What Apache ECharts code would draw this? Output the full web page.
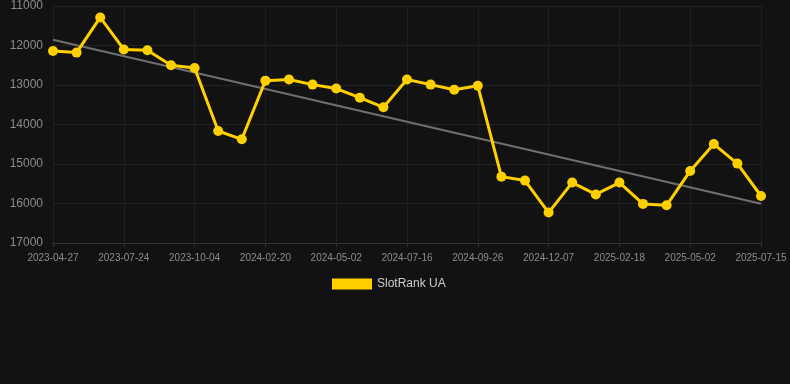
<!DOCTYPE html>
<html>
<head>
<meta charset="utf-8">
<script src="https://cdn.jsdelivr.net/npm/echarts@6/dist/echarts.min.js"></script>
<style>
html,body{margin:0;padding:0;background:#121212;}
#c{width:790px;height:384px;}
</style>
</head>
<body>
<div id="c"></div>
<script>
const categories = ['2023-04-27','2023-05-26','2023-06-24','2023-07-24','2023-08-17','2023-09-10','2023-10-04','2023-11-19','2024-01-04','2024-02-20','2024-03-14','2024-04-07','2024-05-02','2024-05-26','2024-06-21','2024-07-16','2024-08-09','2024-09-02','2024-09-26','2024-10-20','2024-11-13','2024-12-07','2024-12-31','2025-01-25','2025-02-18','2025-03-14','2025-04-07','2025-05-02','2025-05-26','2025-06-20','2025-07-15'];
const rankValues = [12140,12180,11290,12100,12120,12500,12570,14165,14375,12890,12860,12990,13090,13320,13565,12860,12990,13120,13020,15320,15420,16230,15470,15770,15470,16010,16045,15175,14495,14990,15810];
const trendStart = 11855;
const trendEnd = 16005;
const trendValues = categories.map((c, i) => i === 0 ? trendStart : (i === categories.length - 1 ? trendEnd : null));
const yTicks = { min: 11000, max: 17000, interval: 1000 };
const seriesName = 'SlotRank UA';

const chart = echarts.init(document.getElementById('c'), null, {renderer: 'canvas'});
chart.setOption({
  backgroundColor: '#121212',
  animation: false,
  textStyle: { fontFamily: 'Arial, "Liberation Sans", sans-serif' },
  grid: { left: 53, right: 29, top: 6, bottom: 141, containLabel: false },
  legend: {
    data: [{ name: seriesName, icon: 'rect' }],
    top: 278,
    left: 332,
    padding: 0,
    itemWidth: 40,
    itemHeight: 11,
    itemGap: 6,
    textStyle: { color: '#cccccc', fontSize: 12 }
  },
  xAxis: {
    type: 'category',
    data: categories,
    boundaryGap: false,
    axisLine: { show: true, lineStyle: { color: '#333333' } },
    axisTick: { show: true, interval: 2, length: 4, lineStyle: { color: '#333333' } },
    axisLabel: { interval: 2, color: '#8c8c8c', fontSize: 10, margin: 10 },
    splitLine: { show: true, interval: 2, lineStyle: { color: '#1f1f1f' } }
  },
  yAxis: {
    type: 'value',
    inverse: true,
    min: yTicks.min,
    max: yTicks.max,
    interval: yTicks.interval,
    axisLine: { show: false },
    axisTick: { show: false },
    axisLabel: { color: '#8c8c8c', fontSize: 12, margin: 10, formatter: v => String(v) },
    splitLine: { show: true, lineStyle: { color: '#222222' } }
  },
  series: [
    {
      name: 'trend',
      type: 'line',
      data: trendValues,
      connectNulls: true,
      showSymbol: false,
      symbol: 'none',
      lineStyle: { color: '#707070', width: 2 },
      z: 1,
      silent: true
    },
    {
      name: seriesName,
      type: 'line',
      data: rankValues,
      symbol: 'circle',
      symbolSize: 10,
      itemStyle: { color: '#ffd000' },
      lineStyle: { color: '#ffd000', width: 3 },
      z: 2
    }
  ]
});
</script>
</body>
</html>
